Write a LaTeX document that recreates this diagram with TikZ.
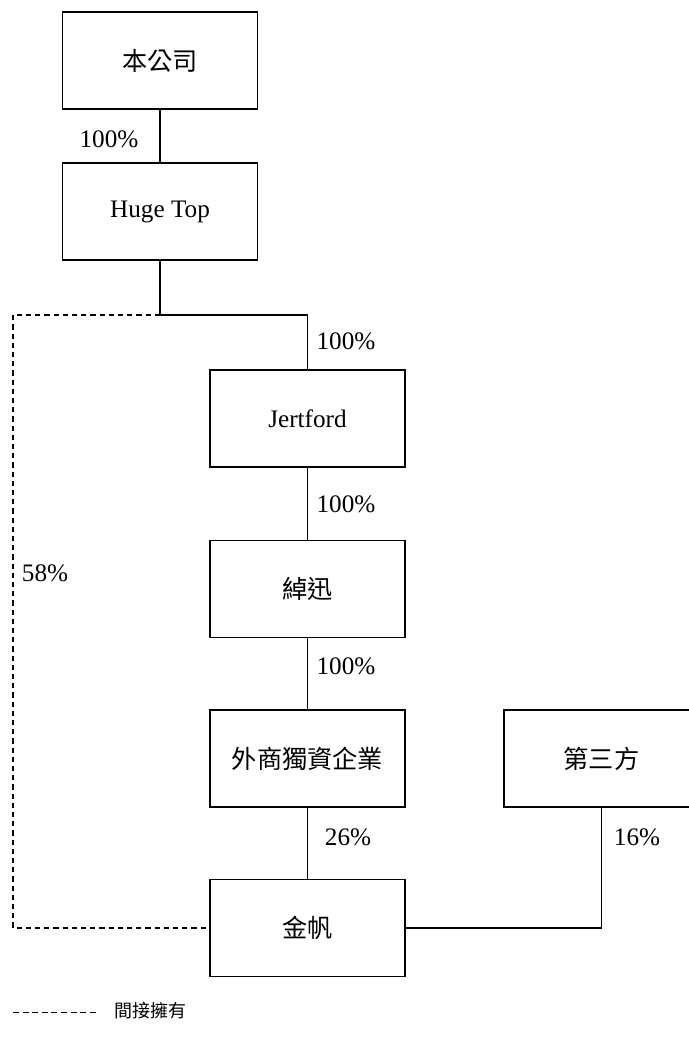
\documentclass[tikz,border=0pt]{standalone}
\usepackage{fontspec}
\setmainfont{Liberation Serif}
\newfontfamily\cjk{Noto Sans CJK TC}

\begin{document}
\begin{tikzpicture}[x=0.5pt, y=-0.5pt, line width=0.6pt,
    ente/.style={draw, minimum width=97.5pt, minimum height=48.5pt,
      inner sep=0pt, font=\fontsize{12.6}{15}\selectfont},
    quota/.style={font=\fontsize{12.6}{15}\selectfont},
    indiretto/.style={dash pattern=on 2.6pt off 2pt}]
  \useasboundingbox (0,0) rectangle (689,1037);

  % societa
  \node[ente] (bengongsi) at (160,60.5) {\cjk 本公司};
  \node[ente] (hugetop) at (160,211.5) {Huge Top};
  \node[ente] (jertford) at (307.5,418.5) {Jertford};
  \node[ente] (chuoxun) at (307.5,589) {\cjk 綽迅};
  \node[ente] (wfoe) at (307.5,758.5) {\cjk 外商獨資企業};
  \node[ente] (terzi) at (601.5,758.5) {\cjk 第三方};
  \node[ente] (jinfan) at (307.5,928) {\cjk 金帆};

  % punti di svolta
  \coordinate (snodo) at (160,315);
  \coordinate (angolo) at (13,315);

  % partecipazioni dirette
  \draw (bengongsi) -- (hugetop);
  \draw (hugetop.south) -- (snodo) -| (jertford.north);
  \draw (jertford) -- (chuoxun);
  \draw (chuoxun) -- (wfoe);
  \draw (wfoe) -- (jinfan);
  \draw (jinfan.east) -| (terzi.south);

  % partecipazione indiretta
  \draw[indiretto] (snodo) -- (angolo) |- (jinfan.west);

  % percentuali
  \node[quota] (q1) at (109,139) {100\%};
  \node[quota] (q2) at (346,341) {100\%};
  \node[quota] (q3) at (346,504) {100\%};
  \node[quota] (q4) at (45,573) {58\%};
  \node[quota] (q5) at (346,666) {100\%};
  \node[quota] (q6) at (348,837) {26\%};
  \node[quota] (q7) at (637,837) {16\%};

  % legenda
  \coordinate (leg1) at (13,1012);
  \coordinate (leg2) at (98,1012);
  \draw[line width=0.5pt, dash pattern=on 3pt off 1.8pt] (leg1) -- (leg2);
  \node[anchor=west, font=\fontsize{9}{11}\selectfont\cjk, inner sep=0pt] (legenda) at (114,1011) {間接擁有};
\end{tikzpicture}
\end{document}
